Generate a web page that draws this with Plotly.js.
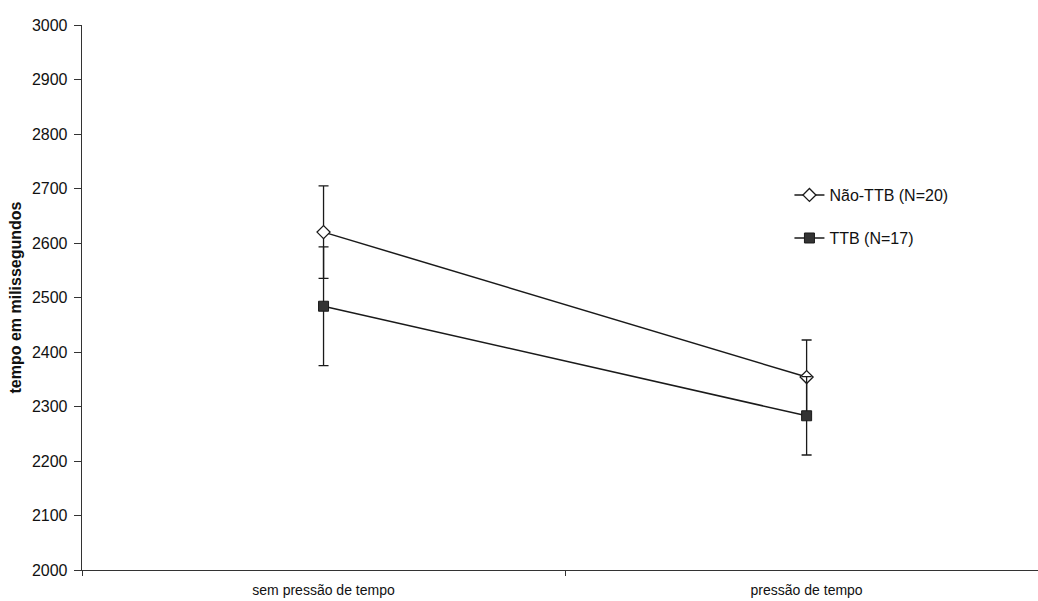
<!DOCTYPE html>
<html>
<head>
<meta charset="utf-8">
<script src="https://cdn.plot.ly/plotly-3.0.1.min.js"></script>
<style>html,body{margin:0;padding:0;background:#fff;}#chart{width:1038px;height:601px;}</style>
</head>
<body>
<div id="chart"></div>
<script>
const categories = ["sem pressão de tempo", "pressão de tempo"];
const naoTTB = [2620, 2354];
const naoTTBErr = [85, 68];
const ttb = [2484, 2283];
const ttbErr = [109, 72];
const seriesNames = ["Não-TTB (N=20)", "TTB (N=17)"];

const traces = [
  {
    x: categories, y: naoTTB, name: seriesNames[0], type: "scatter", mode: "lines+markers",
    line: {color: "#1a1a1a", width: 1.5},
    marker: {symbol: "diamond", size: 10, color: "#ffffff", line: {color: "#1a1a1a", width: 1.3}},
    error_y: {type: "data", array: naoTTBErr, visible: true, color: "#1a1a1a", thickness: 1.3, width: 5},
    legend: "legend"
  },
  {
    x: categories, y: ttb, name: seriesNames[1], type: "scatter", mode: "lines+markers",
    line: {color: "#1a1a1a", width: 1.5},
    marker: {symbol: "square", size: 10, color: "#333333", line: {color: "#1a1a1a", width: 1}},
    error_y: {type: "data", array: ttbErr, visible: true, color: "#1a1a1a", thickness: 1.3, width: 5},
    legend: "legend2"
  }
];

const layout = {
  width: 1038, height: 601,
  margin: {l: 82, r: 0, t: 25, b: 31},
  paper_bgcolor: "#ffffff", plot_bgcolor: "#ffffff",
  font: {family: "Liberation Sans, Arial, sans-serif", size: 15, color: "#111"},
  xaxis: {
    type: "category", range: [-0.5, 1.479],
    showline: true, linecolor: "#333", linewidth: 1.3,
    ticks: "outside", tickson: "boundaries", ticklen: 5, tickcolor: "#333",
    showgrid: false, zeroline: false,
    tickfont: {size: 14}, ticklabelstandoff: 7
  },
  yaxis: {
    range: [2000, 3000], dtick: 100, tick0: 2000,
    showline: true, linecolor: "#333", linewidth: 1.3,
    ticks: "outside", ticklen: 7, tickcolor: "#333",
    showgrid: false, zeroline: false,
    tickfont: {size: 16}, ticklabelstandoff: 3,
    title: {text: "<b>tempo em milissegundos</b>", font: {size: 16}, standoff: 6}
  },
  showlegend: true,
  legend: {x: 0.74, y: 0.688, xanchor: "left", yanchor: "middle", bgcolor: "rgba(0,0,0,0)", font: {size: 16}},
  legend2: {x: 0.74, y: 0.609, xanchor: "left", yanchor: "middle", bgcolor: "rgba(0,0,0,0)", font: {size: 16}}
};

Plotly.newPlot("chart", traces, layout, {displayModeBar: false, staticPlot: true});
</script>
</body>
</html>
